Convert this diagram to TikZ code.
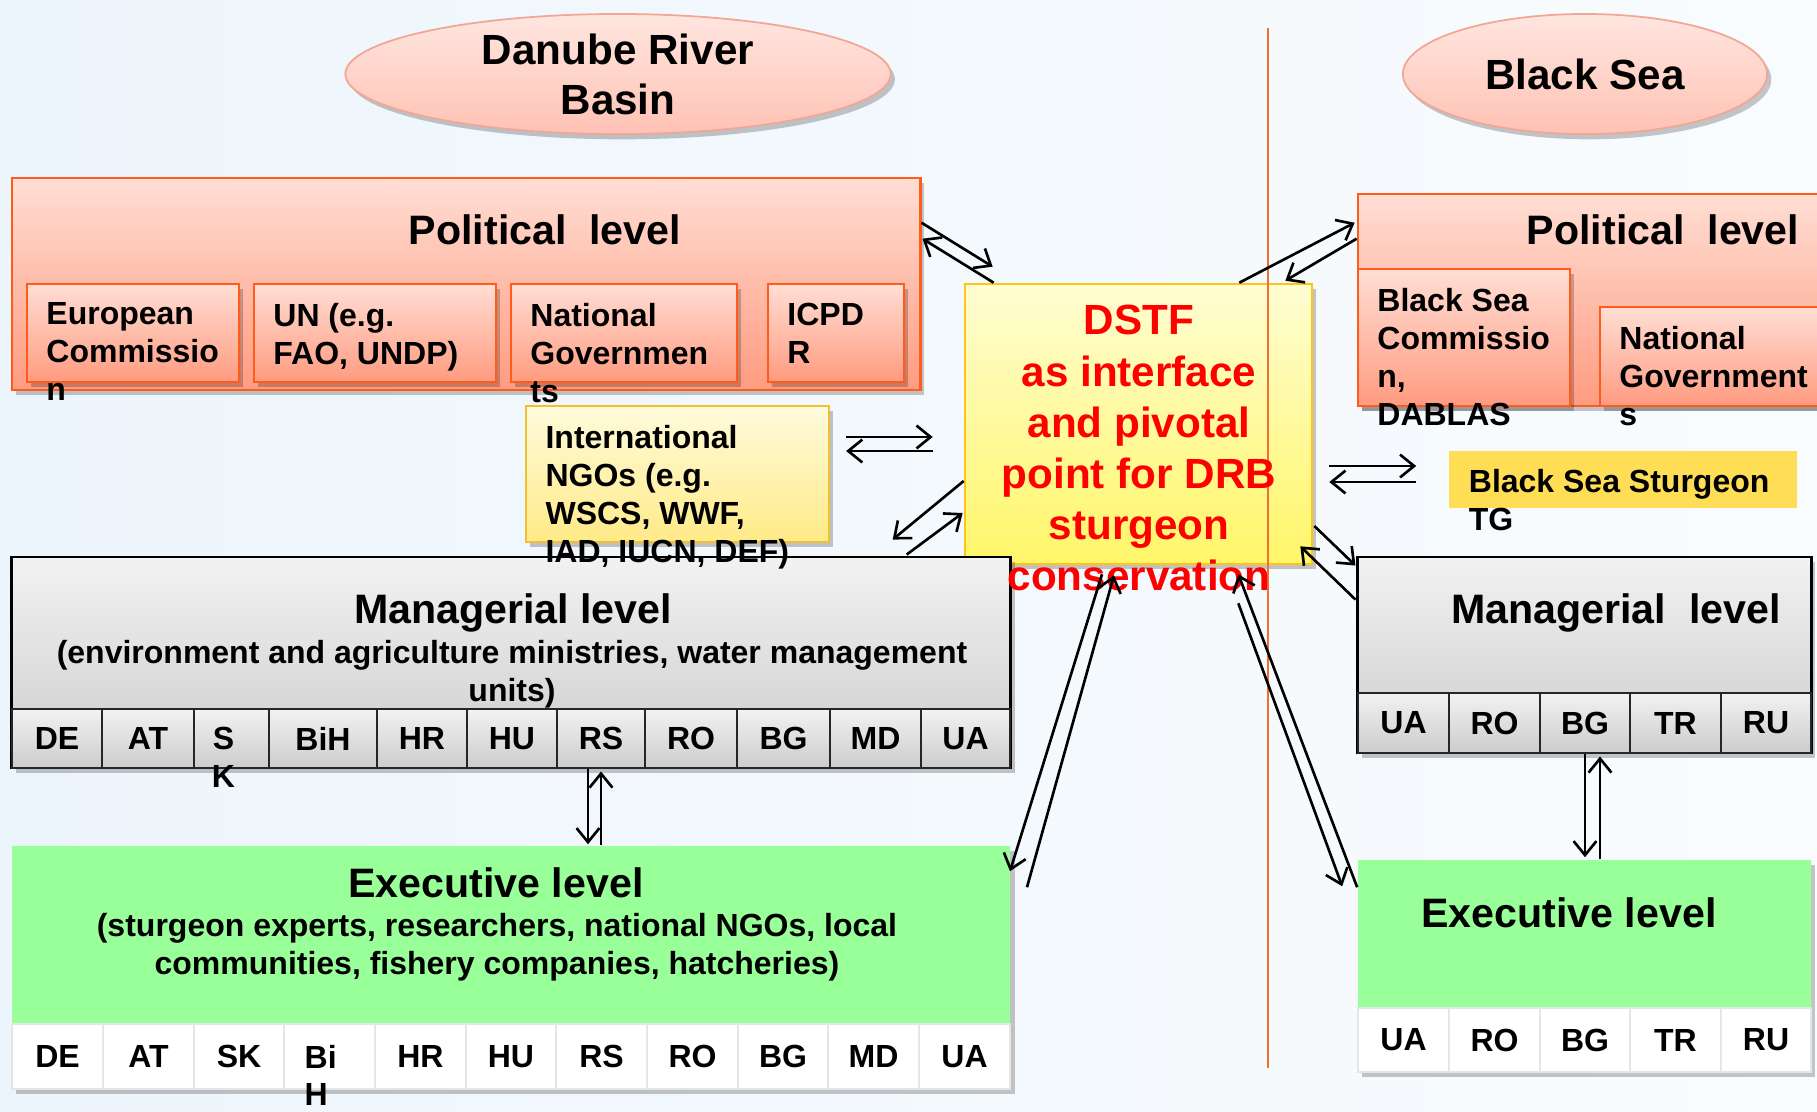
\documentclass[tikz,border=0pt]{standalone}
\usepackage{fontspec}
\setmainfont{Liberation Sans}
\usepackage{tikz}
\usetikzlibrary{positioning}
\usetikzlibrary{shapes.geometric}
\usetikzlibrary{shadows}
\usetikzlibrary{arrows.meta}
\definecolor{bgblue}{RGB}{237,245,252}
\definecolor{bgwhite}{RGB}{249,252,254}
\definecolor{pinktop}{RGB}{255,230,224}
\definecolor{pinkbot}{RGB}{255,194,180}
\definecolor{pinkline}{RGB}{242,166,150}
\definecolor{poltop}{RGB}{255,222,212}
\definecolor{polbot}{RGB}{255,155,128}
\definecolor{polline}{RGB}{255,92,28}
\definecolor{ngotop}{RGB}{255,251,220}
\definecolor{ngobot}{RGB}{255,234,135}
\definecolor{ngoline}{RGB}{240,192,50}
\definecolor{dstftop}{RGB}{255,253,210}
\definecolor{dstfbot}{RGB}{255,246,105}
\definecolor{dstfline}{RGB}{255,196,20}
\definecolor{tggold}{RGB}{255,221,85}
\definecolor{greytop}{RGB}{242,242,242}
\definecolor{greybot}{RGB}{204,204,204}
\definecolor{exegreen}{RGB}{153,255,153}
\definecolor{divorange}{RGB}{242,110,50}
\newcommand{\seafont}{\fontsize{12}{14.2}\selectfont\bfseries}
\newcommand{\levelfont}{\fontsize{11.7}{14}\selectfont\bfseries}
\newcommand{\boxfont}{\fontsize{9.1}{10.8}\selectfont\bfseries}
\newcommand{\dstffont}{\fontsize{12}{14.55}\selectfont\bfseries}

\begin{document}
\begin{tikzpicture}[
  x=0.01cm, y=-0.01cm,
  arr/.style={-{Straight Barb[length=4pt,width=6.5pt]}, line width=0.75pt},
  softshadow/.style={drop shadow={fill=black, opacity=0.22, shadow xshift=1.2pt, shadow yshift=-1.5pt}}
]
\tikzset{
    seanode/.style = {ellipse, draw=pinkline, line width=0.5pt, top color=pinktop, bottom color=pinkbot, align=center, inner sep=0, font=\seafont, softshadow},
    polbox/.style = {rectangle, draw=polline, line width=0.7pt, top color=poltop, bottom color=polbot, inner sep=0, softshadow},
    ngobox/.style = {rectangle, draw=ngoline, line width=0.6pt, top color=ngotop, bottom color=ngobot, inner sep=0, softshadow},
    dstfbox/.style = {rectangle, draw=dstfline, line width=0.7pt, top color=dstftop, bottom color=dstfbot, inner sep=0, softshadow},
    dstftext/.style = {align=center, inner sep=0, text=red, font=\dstffont},
    tgbox/.style = {rectangle, fill=tggold, inner sep=0},
    mgrbox/.style = {rectangle, draw=black, line width=0.8pt, top color=greytop, bottom color=greybot, inner sep=0, softshadow},
    mcell/.style = {rectangle, draw=black!85, line width=0.5pt, top color=greytop, bottom color=greybot, inner sep=0, font=\boxfont},
    exebox/.style = {rectangle, fill=white, inner sep=0, softshadow},
    exetop/.style = {rectangle, fill=exegreen, inner sep=0},
    ecell/.style = {rectangle, draw=black!10, fill=white, inner sep=0, font=\boxfont},
    boxtext/.style = {anchor=north west, align=left, inner sep=0, font=\boxfont},
    leveltext/.style = {anchor=base, inner sep=0, font=\levelfont},
    subtext/.style = {anchor=north, align=center, inner sep=0, font=\boxfont},
    codetext/.style = {inner sep=0, font=\boxfont},
}
% background
\shade[left color=bgblue, right color=bgwhite] (0,0) rectangle (1817,1111);
\useasboundingbox (0,0) rectangle (1817,1111);

% the two basins
\node[seanode, minimum width=5.45cm, minimum height=1.2cm] (danube) at (618,74) {Danube River\\Basin};
\node[seanode, minimum width=3.64cm, minimum height=1.2cm] (blacksea) at (1585,74) {Black Sea};

% political level, Danube side
\node[polbox, minimum width=9.08cm, minimum height=2.12cm] (polL) at (466,284) {};
\node[leveltext] (polLtitle) at (545,244) {Political~ level};
\node[polbox, minimum width=2.12cm, minimum height=0.98cm] (ec) at (133,333) {};
\node[polbox, minimum width=2.42cm, minimum height=0.98cm] (un) at (375,333) {};
\node[polbox, minimum width=2.26cm, minimum height=0.98cm] (ngL) at (624,333) {};
\node[polbox, minimum width=1.36cm, minimum height=0.98cm] (icpd) at (836,333) {};
\node[boxtext] (ectext) at ([shift={(20,19.5)}]ec.north west) {European\\Commissio\\n};
\node[boxtext] (untext) at ([shift={(20,19.5)}]un.north west) {UN (e.g.\\FAO, UNDP)};
\node[boxtext] (ngLtext) at ([shift={(20,19.5)}]ngL.north west) {National\\Governmen\\ts};
\node[boxtext] (icpdtext) at ([shift={(20,19.5)}]icpd.north west) {ICPD\\R};

% international NGOs
\node[ngobox, minimum width=3.03cm, minimum height=1.36cm] (ingo) at (677.5,474) {};

% DSTF
\node[dstfbox, minimum width=3.47cm, minimum height=2.8cm] (dstf) at (1138.5,424) {};
\draw[divorange, line width=0.8pt] (1268,28) -- (1268,1068);

% political level, Black Sea side
\node[polbox, minimum width=4.72cm, minimum height=2.12cm] (polR) at (1594,300) {};
\node[leveltext] (polRtitle) at (1663,244) {Political~ level};
\node[polbox, minimum width=2.12cm, minimum height=1.37cm] (bsc) at (1464,337.5) {};
\node[polbox, minimum width=2.30cm, minimum height=0.99cm] (ngR) at (1715,356.5) {};
\node[boxtext] (bsctext) at ([shift={(20,19.5)}]bsc.north west) {Black Sea\\Commissio\\n,\\DABLAS};
\node[boxtext] (ngRtext) at ([shift={(20,19.5)}]ngR.north west) {National\\Government\\s};

% sturgeon task group
\node[tgbox, minimum width=3.48cm, minimum height=0.57cm] (bstg) at (1623,479.5) {};
\node[boxtext] (bstgtext) at ([shift={(20,18.5)}]bstg.north west) {Black Sea Sturgeon\\TG};

% managerial level, Danube side
\node[mgrbox, minimum width=9.98cm, minimum height=2.11cm] (mgrL) at (511,662.5) {};
\node[leveltext] (mgrLtitle) at (513,623) {Managerial level};
\node[subtext] (mgrLsub) at (512,640) {(environment and agriculture ministries, water management\\units)};
\foreach \lab/\xa/\xb [count=\i] in {DE/12/102, AT/102/194, {}/194/269, BiH/269/377, HR/377/467, HU/467/557, RS/557/645, RO/645/737, BG/737/830, MD/830/921, UA/921/1010}
  \node[mcell, minimum width={(\xb-\xa)*0.01cm}, minimum height=0.59cm] (mL\i) at ({(\xa+\xb)/2},738.5) {\lab};
\node[codetext] (mLS) at ([shift={(-8,0)}]mL3.center) {S};
\node[codetext] (mLK) at ([shift={(-8,38)}]mL3.center) {K};

\node[boxtext] (ingotext) at ([shift={(20,19.5)}]ingo.north west) {International\\NGOs (e.g.\\WSCS, WWF,\\IAD, IUCN, DEF)};
\node[dstftext, anchor=north] (dstftxt) at ([shift={(0.5,22)}]dstf.north) {DSTF\\as interface\\and pivotal\\point for DRB\\sturgeon\\conservation};

% executive level, Danube side
\node[exebox, minimum width=9.98cm, minimum height=2.43cm] (exeL) at (511,967.5) {};
\node[exetop, minimum width=9.98cm, minimum height=1.78cm] (exeLtop) at (511,935) {};
\node[leveltext] (exeLtitle) at (496,897) {Executive level};
\node[subtext] (exeLsub) at (497,913) {(sturgeon experts, researchers, national NGOs, local\\communities, fishery companies, hatcheries)};
\foreach \lab/\xa/\xb [count=\i] in {DE/12/103, AT/103/194, SK/194/284, {}/284/375, HR/375/466, HU/466/556, RS/556/647, RO/647/738, BG/738/828, MD/828/919, UA/919/1010}
  \node[ecell, minimum width={(\xb-\xa)*0.01cm}, minimum height=0.65cm] (eL\i) at ({(\xa+\xb)/2},1056.5) {\lab};
\node[codetext, anchor=west] (eLBi) at (304,1056.5) {Bi};
\node[codetext, anchor=west] (eLH) at (304,1094) {H};

% managerial level, Black Sea side
\node[mgrbox, minimum width=4.53cm, minimum height=1.96cm] (mgrR) at (1584.5,655) {};
\node[leveltext] (mgrRtitle) at (1616,623) {Managerial~ level};
\foreach \lab/\xa/\xb [count=\i] in {UA/1358/1449, RO/1449/1540, BG/1540/1630, TR/1630/1721, RU/1721/1811}
  \node[mcell, minimum width={(\xb-\xa)*0.01cm}, minimum height=0.60cm] (mR\i) at ({(\xa+\xb)/2},723) {\lab};

% executive level, Black Sea side
\node[exebox, minimum width=4.53cm, minimum height=2.12cm] (exeR) at (1584.5,966) {};
\node[exetop, minimum width=4.53cm, minimum height=1.48cm] (exeRtop) at (1584.5,934) {};
\node[leveltext] (exeRtitle) at (1569,927) {Executive level};
\foreach \lab/\xa/\xb [count=\i] in {UA/1358/1449, RO/1449/1540, BG/1540/1630, TR/1630/1721, RU/1721/1811}
  \node[ecell, minimum width={(\xb-\xa)*0.01cm}, minimum height=0.64cm] (eR\i) at ({(\xa+\xb)/2},1040) {\lab};

% arrow pairs
\draw[arr] ([shift={(0,46)}]polL.north east) -- ([shift={(29,-16)}]dstf.north west);
\draw[arr] ([shift={(30,0)}]dstf.north west) -- ([shift={(1,62)}]polL.north east);
\draw[arr] ([shift={(-74,0)}]dstf.north east) -- ([shift={(-2,30)}]polR.north west);
\draw[arr] ([shift={(0,46)}]polR.north west) -- ([shift={(-28,-2)}]dstf.north east);
\draw[arr] ([shift={(16,-37)}]ingo.east) -- ([shift={(-31,13)}]dstf.west);
\draw[arr] ([shift={(-31,27)}]dstf.west) -- ([shift={(16,-23)}]ingo.east);
\draw[arr] ([shift={(0,57)}]dstf.west) -- ([shift={(-119,-16)}]mgrL.north east);
\draw[arr] ([shift={(-105,-1)}]mgrL.north east) -- ([shift={(-1,89)}]dstf.west);
\draw[arr] ([shift={(-36.5,9)}]dstf.south) -- ([shift={(-1,26)}]exeL.north east);
\draw[arr] ([shift={(16,42)}]exeL.north east) -- ([shift={(-24.5,10)}]dstf.south);
\draw[arr] ([shift={(0,28)}]exeR.north west) -- ([shift={(-75,9)}]dstf.south east);
\draw[arr] ([shift={(-75,38)}]dstf.south east) -- ([shift={(-15,27)}]exeR.north west);
\draw[arr] ([shift={(1,102)}]dstf.east) -- ([shift={(-1,10)}]mgrR.north west);
\draw[arr] ([shift={(-1,44)}]mgrR.north west) -- ([shift={(-13,-19)}]dstf.south east);
\draw[arr] ([shift={(16,42)}]dstf.east) -- ([shift={(-32,-13.5)}]bstg.west);
\draw[arr] ([shift={(-32,2.5)}]bstg.west) -- ([shift={(16,58)}]dstf.east);
\draw[arr] ([shift={(77,0)}]mgrL.south) -- ([shift={(77,-1)}]exeL.north);
\draw[arr] ([shift={(90,0)}]exeL.north) -- ([shift={(90,2)}]mgrL.south);
\draw[arr] ([shift={(0.5,0)}]mgrR.south) -- ([shift={(0.5,-2)}]exeR.north);
\draw[arr] ([shift={(15.5,0)}]exeR.north) -- ([shift={(15.5,2)}]mgrR.south);

\end{tikzpicture}
\end{document}
